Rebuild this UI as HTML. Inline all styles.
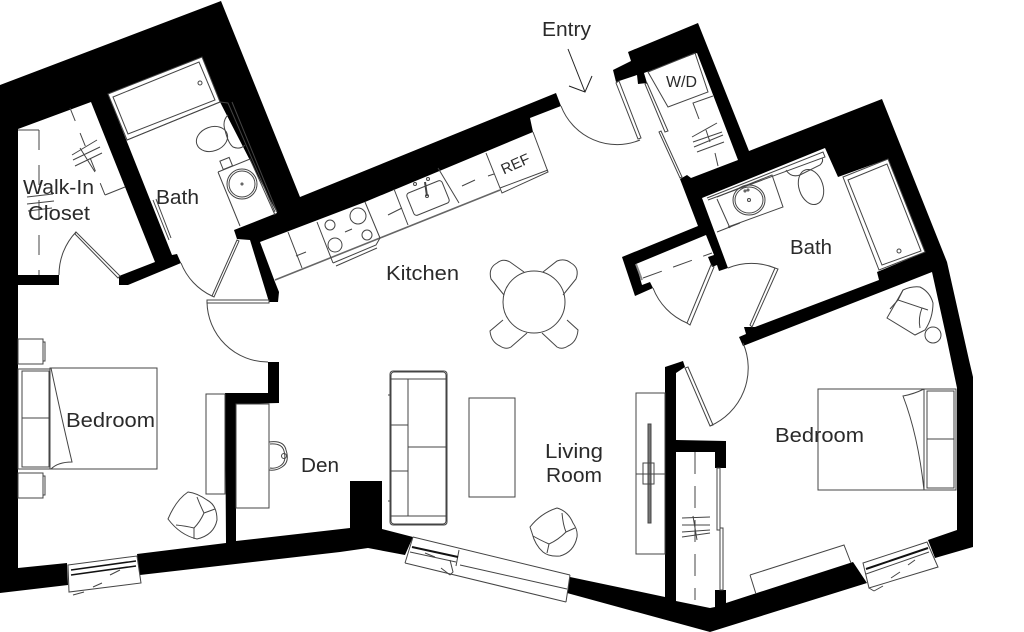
<!DOCTYPE html>
<html><head><meta charset="utf-8"><style>
html,body{margin:0;padding:0;background:#fff;width:1024px;height:632px;overflow:hidden}
svg{display:block}
text{font-family:"Liberation Sans",sans-serif;font-size:20px;fill:#2a2a2a;stroke:none}
</style></head><body>
<svg width="1024" height="632" viewBox="0 0 1024 632" xmlns="http://www.w3.org/2000/svg">
<g fill="#000" stroke="none">
<polygon points="0,85 221,1 300,197 556,93 561,106 530,118 533,132 365,202 260,242 275,282 279,292 278,302 269,302 250,240 237,239 234,230 277,213 220,102 202,57 108,94 172,255 177,254 181,263 128,285 119,285 119,276 155,262 91,102 18,129 18,275 59,275 59,285 18,285 18,568 67,563 68,585 0,593"/>
<polygon points="137,554 226,543 225,393 268,393 268,362 279,362 279,403 236,404 236,541 350,528 350,481 382,481 382,529 413,537 405,555 368,548 340,552 140,575"/>
<polygon points="570,577 665,597 665,367 683,361 685,367 676,373 676,440 726,441 726,468 715,468 715,452 676,452 676,601 710,608 715,607 715,590 726,590 726,603 853,562 867,583 710,632 567,593"/>
<polygon points="882,99 947,262 969,360 973,377 973,547 935,558 928,540 957,530 957,388 947,340 932,272 743,346 739,337 746,334 744,327 755,327 879,280 877,272 925,252 888,159 838,177 825,148 702,198 728,268 719,271 717,265 712,267 708,257 714,255 706,235 636,264 642,285 650,282 653,288 635,296 622,257 698,226 680,179 687,175 691,178 738,160 697,53 644,73 647,83 638,84 637,75 616,82 613,70 631,61 628,52 698,23 749,151"/>
</g>

<g fill="none" stroke="#444" stroke-width="1">
<!-- door arcs -->
<path d="M76,232A62,62 0 0 0 59,275"/>
<path d="M181,263A61,61 0 0 0 212,296"/>
<path d="M207,302A61,61 0 0 0 268,362"/>
<path d="M561,106A60,60 0 0 0 640,140"/>
<path d="M653,288A62,62 0 0 0 687,323"/>
<path d="M728,268A62,62 0 0 1 775,268"/>
<path d="M710,426A63,63 0 0 0 743,343"/>

<!-- walk-in closet -->
<path d="M18,130H39"/>
<path d="M39,130V275" stroke-dasharray="20 15"/>
<path d="M70,108L105,195" stroke-dasharray="14 13"/>
<path d="M105,195L125,187"/>
<path d="M72,155L97,140M73,160L100,147M75,166L102,153M80,148L95,172"/>
<path d="M27,197L53,194M27,204L54,201M28,211L52,208"/>

<!-- left bath -->
<polygon points="108,94 202,57 220,102 127,140"/>
<polygon points="113,97 199,62 215,100 128,134"/>
<circle cx="200" cy="83" r="2"/>
<path d="M127,140L220,102L228,103L275,212M232,102L277,212"/>
<path d="M228,115Q222,121 225,130Q228,143 233,147Q240,150 245,145"/>
<ellipse cx="212" cy="139" rx="16" ry="12" transform="rotate(-20 212 139)"/>
<rect x="221" y="159" width="10" height="9" transform="rotate(-22 226 163)"/>
<path d="M218,172L250,159L275,215M218,172L240,226"/>
<circle cx="242" cy="184" r="15"/><circle cx="242" cy="184" r="13"/>
<circle cx="242" cy="184" r="1"/>
<path d="M153,200L169,240M156,199L171,238"/>

<!-- kitchen -->
<path d="M275,280L380,238L500,190" stroke="#666" stroke-width="1.6"/>
<path d="M288,232L302,268M317,222L333,263M365,202L380,238M394,189L408,225M438,168L459,203M486,153L500,188M533,132L548,172L502,193L500,188"/>
<path d="M548,170L500,188"/>
<path d="M333,263L376,245L380,238M336,266L377,248"/>
<circle cx="330" cy="225" r="5"/><circle cx="335" cy="245" r="7"/><circle cx="358" cy="216" r="8"/><circle cx="367" cy="235" r="5"/>
<path d="M388,215L402,208M296,256L306,252M345,232L352,229M462,186L475,180M488,176L494,174"/>
<rect x="409" y="186" width="38" height="24" rx="3" transform="rotate(-22 428 198)"/>
<circle cx="415" cy="184" r="1.5"/><circle cx="428" cy="179" r="1.5"/><circle cx="427" cy="196" r="1.5"/>
<path d="M425,182L427,196" stroke-width="2"/>

<!-- table and chairs -->
<circle cx="534" cy="302" r="31"/>
<path d="M504,295L491,279Q488,268 497,263Q503,258 510,262L524,272"/>
<path d="M563,295L576,279Q580,268 571,263Q565,258 557,261L543,272"/>
<path d="M503,320L490,331Q491,342 500,346Q506,350 511,347L527,333"/>
<path d="M567,320L578,330Q577,342 568,346Q562,350 557,347L542,333"/>

<!-- left bedroom -->
<rect x="50" y="368" width="107" height="101"/>
<rect x="18" y="369" width="32" height="100"/>
<rect x="22" y="371" width="27" height="96"/>
<path d="M22,418H49"/>
<path d="M51,368Q62,420 72,462Q58,462 51,469"/>
<rect x="18" y="339" width="25" height="25"/><rect x="43" y="342" width="2" height="19"/>
<rect x="18" y="473" width="25" height="25"/><rect x="43" y="476" width="2" height="19"/>
<rect x="206" y="394" width="19" height="100"/>
<rect x="236" y="404" width="33" height="104"/>
<path d="M269,442Q284,440 286,450Q290,462 282,467Q276,471 269,470"/>
<path d="M270,444Q282,443 284,451Q287,462 280,466Q275,469 270,468"/>
<circle cx="284" cy="456" r="2.5"/>
<path d="M188,492Q176,500 168,519Q180,535 197,539Q214,535 217,520Q217,505 207,500Q197,493 188,492Z"/>
<path d="M197,497Q200,505 204,513Q200,522 194,528Q186,526 176,525M194,528V539M204,513L215,509"/>

<!-- left window -->
<polygon points="68,565 137,556 141,583 69,592"/>
<path d="M71,570L136,561M71,575L136,566" stroke="#111" stroke-width="1.6"/>
<path d="M73,595L84,592M93,587L102,583M110,575L120,570"/>

<!-- living -->
<rect x="390" y="371" width="57" height="154" rx="3"/>
<rect x="391" y="372" width="55" height="152" rx="3"/>
<path d="M391,379H446M391,516H446M408,379V516M408,447H447M391,425H408M391,471H408M388,395H391M388,501H391"/>
<rect x="469" y="398" width="46" height="99"/>
<rect x="636" y="393" width="29" height="161"/>
<rect x="648" y="424" width="3" height="99" fill="#777"/>
<rect x="643" y="463" width="11" height="21"/>
<path d="M636,474H665"/>
<path d="M530,527Q541,513 557,508Q568,511 573,523Q578,530 577,537Q574,552 560,556Q549,557 543,552Q535,545 532,533Z"/>
<path d="M562,513Q563,525 566,532Q558,540 549,544Q540,540 533,536M549,544L547,553M566,532L575,528"/>

<!-- living window -->
<path d="M413,537L570,575M405,563L566,602M413,537L405,563M570,575L566,602M460,565L567,589M459,550L456,566"/>
<path d="M412,547L458,557" stroke="#111" stroke-width="2"/>
<path d="M410,552L456,562"/>
<path d="M425,553L435,557M450,560L453,572Q453,572 450,575M441,568L450,575"/>

<!-- entry -->
<path d="M568,49L585,92M569,86L585,92L592,76" stroke="#222"/>
<path d="M616,83L638,139L641,138L619,81Z"/>

<!-- W/D closet -->
<polygon points="648,72 668,107 708,92 695,53"/>
<path d="M699,119L693,103L713,96"/>
<path d="M715,153L718,166"/>
<path d="M692,137L717,123M693,142L722,132M694,147L723,135M697,152L724,142M706,130L710,142"/>
<path d="M647,83L668,131L665,132L645,84ZM661,131L682,177L680,178L659,132Z"/>

<!-- closet right -->
<path d="M643,278L712,253" stroke-dasharray="20 12"/>
<path d="M636,264L642,280" stroke="#888" stroke-width="2"/>
<path d="M711,265L687,323L690,325L714,267Z"/>
<path d="M750,325L775,268L778,269L752,327Z"/>

<!-- right bath -->
<polygon points="843,177 888,159 925,252 879,270"/>
<polygon points="848,180 887,164 921,251 882,265"/>
<circle cx="899" cy="251" r="2"/>
<path d="M707,198L823,152L825,157L708,200"/>
<path d="M717,197L772,175L783,207L728,227M717,199L730,228M717,232L740,223" />
<ellipse cx="749" cy="200" rx="16" ry="15"/><ellipse cx="749" cy="200" rx="14" ry="13"/>
<circle cx="749" cy="200" r="1.5"/><circle cx="745" cy="191" r="1"/><circle cx="748" cy="190" r="1"/>
<path d="M786,170Q791,178 800,175L820,165Q824,161 822,158"/>
<ellipse cx="811" cy="187" rx="12" ry="18" transform="rotate(-18 811 187)"/>

<!-- right chair -->
<path d="M887,318L903,290Q912,286 920,287Q930,292 933,303Q933,318 925,330L915,335Z"/>
<path d="M903,290Q900,296 898,300L922,308Q918,318 920,328M922,308L928,310M898,300L890,309"/>
<circle cx="933" cy="335" r="8"/>

<!-- right bedroom -->
<rect x="818" y="389" width="138" height="101"/>
<path d="M924,389V490"/>
<rect x="927" y="391" width="27" height="97"/>
<path d="M927,439H954"/>
<path d="M924,389Q914,394 903,396Q918,435 924,490"/>
<path d="M750,575L844,545L851,563M750,575L756,594"/>

<!-- right closet -->
<path d="M695,452V600" stroke-dasharray="22 12"/>
<path d="M682,518L710,517M682,525L710,525M682,532L710,530M682,537L710,533M693,516L697,540"/>
<path d="M717,468V530H720V468ZM720,528V590H723V528Z"/>
<path d="M685,368L710,426L713,425L688,367Z"/>

<!-- right window -->
<polygon points="863,563 927,542 938,567 869,588"/>
<path d="M866,569L928,548" stroke="#111" stroke-width="2"/>
<path d="M866,574L929,552"/>
<path d="M874,591L883,586M891,578L900,572M908,565L915,560M869,588L874,591"/>

<!-- left door details -->
<path d="M237,240L212,296L214,297L239,241Z"/>
<path d="M76,232L120,276L118,278L75,234Z"/>
<path d="M207,300H269V303H207Z"/>
</g>

<g>
<text x="542" y="36" textLength="49" lengthAdjust="spacingAndGlyphs">Entry</text>
<text x="23" y="194" textLength="71" lengthAdjust="spacingAndGlyphs">Walk-In</text>
<text x="28" y="220" textLength="62" lengthAdjust="spacingAndGlyphs">Closet</text>
<text x="156" y="204" textLength="43" lengthAdjust="spacingAndGlyphs">Bath</text>
<text x="66" y="427" textLength="89" lengthAdjust="spacingAndGlyphs">Bedroom</text>
<text x="301" y="472" textLength="38" lengthAdjust="spacingAndGlyphs">Den</text>
<text x="386" y="280" textLength="73" lengthAdjust="spacingAndGlyphs">Kitchen</text>
<text x="545" y="458" textLength="58" lengthAdjust="spacingAndGlyphs">Living</text>
<text x="546" y="482" textLength="56" lengthAdjust="spacingAndGlyphs">Room</text>
<text x="790" y="254" textLength="42" lengthAdjust="spacingAndGlyphs">Bath</text>
<text x="775" y="442" textLength="89" lengthAdjust="spacingAndGlyphs">Bedroom</text>
<text x="666" y="87" textLength="31" lengthAdjust="spacingAndGlyphs" style="font-size:16px">W/D</text>
<text x="515" y="169" text-anchor="middle" transform="rotate(-24 515 163)" style="font-size:15px">REF</text>
</g>
</svg>
</body></html>
